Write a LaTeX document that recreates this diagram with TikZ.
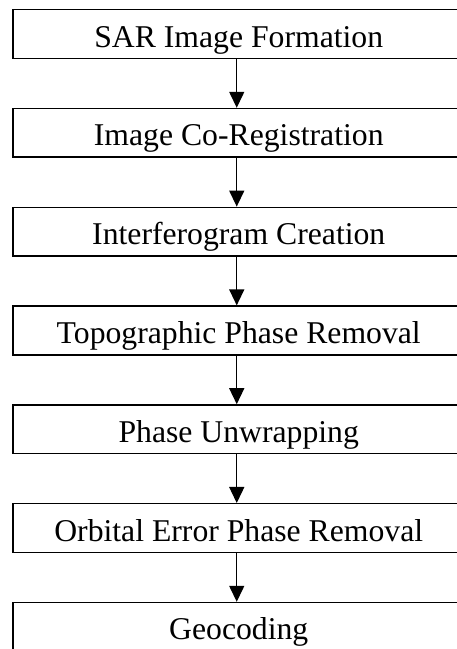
\documentclass[tikz,border=0pt]{standalone}
\usepackage{fontspec}
\setmainfont{Liberation Serif}
\usetikzlibrary{arrows.meta}
\begin{document}
\begin{tikzpicture}[x=1pt,y=1pt,
  stage/.style={draw, line width=1.5pt, rectangle, anchor=north west,
    minimum width=452pt, minimum height=48.7pt, inner sep=0pt,
    text height=26pt, text depth=0pt,
    font=\fontsize{31.7pt}{38pt}\selectfont},
  flow/.style={-{Triangle[width=15pt,length=16pt]}, line width=1.4pt}]
\useasboundingbox (0,0) rectangle (457,649);
\clip (0,0) rectangle (457,649);
% processing stages, top to bottom
\node[stage] (s1) at (12,640)   {SAR Image Formation};
\node[stage] (s2) at (12,541.2) {Image Co-Registration};
\node[stage] (s3) at (12,442.4) {Interferogram Creation};
\node[stage] (s4) at (12,343.6) {Topographic Phase Removal};
\node[stage] (s5) at (12,244.8) {Phase Unwrapping};
\node[stage] (s6) at (12,146)   {Orbital Error Phase Removal};
\node[stage] (s7) at (12,47.2)  {Geocoding};
% connectors between consecutive stages
\foreach \a/\b in {s1/s2,s2/s3,s3/s4,s4/s5,s5/s6,s6/s7}
  \draw[flow] ([xshift=-2pt]\a.south) -- ([xshift=-2pt]\b.north);
\end{tikzpicture}
\end{document}
